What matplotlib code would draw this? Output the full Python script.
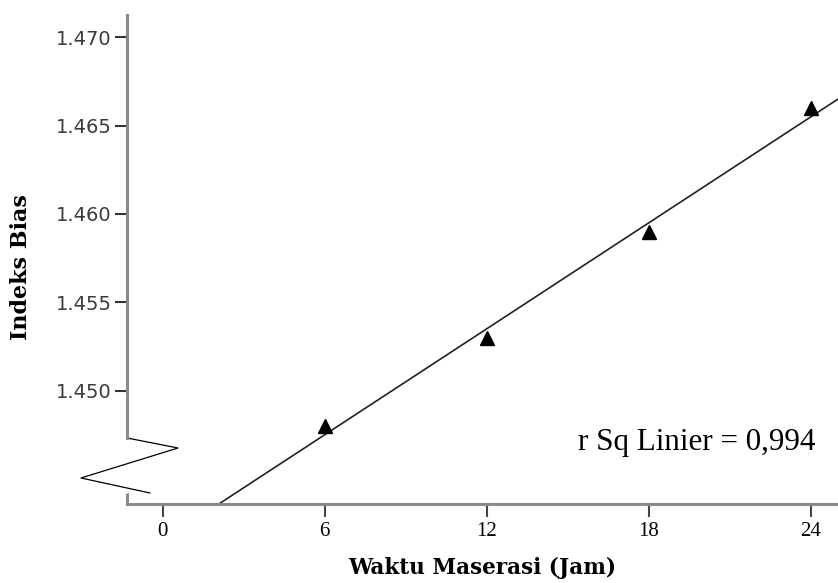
import matplotlib
matplotlib.use("Agg")
import matplotlib.pyplot as plt
import numpy as np

# data
waktu = [6, 12, 18, 24]
indeks = [1.448, 1.453, 1.459, 1.466]
xticks = [0, 6, 12, 18, 24]
yticks = [1.450, 1.455, 1.460, 1.465, 1.470]

slope, icpt = np.polyfit(waktu, indeks, 1)
r2 = np.corrcoef(waktu, indeks)[0, 1] ** 2

fig = plt.figure(figsize=(8.38, 5.83), dpi=100)
ax = fig.add_axes([127/838, 79/583, 711/838, 489/583])

ax.set_xlim(-1.32, 25.0)
ax.set_ylim(1.44358, 1.47126)

xx = np.array([-2, 26])
ax.plot(xx, icpt + slope*xx, color='#222222', lw=1.2)
ax.plot(waktu, indeks, linestyle='none', marker='^', ms=9.5, color='black')

for s in ['top', 'right']:
    ax.spines[s].set_visible(False)
spcol = '#8a8a8a'
ax.spines['bottom'].set_color(spcol)
ax.spines['bottom'].set_linewidth(2.2)
ax.spines['left'].set_color(spcol)
ax.spines['left'].set_linewidth(2.2)
ylo, yhi = ax.get_ylim()
ax.spines['left'].set_bounds(ylo + 0.135*(yhi - ylo), yhi)

# axis break
tr = ax.transAxes
ax.plot([0, 0], [0, 0.0225], color=spcol, lw=2.2, transform=tr, clip_on=False,
        solid_capstyle='butt')
ax.plot([0, 0.0717, -0.0647, 0.0323], [0.135, 0.1145, 0.0532, 0.0225],
        color='black', lw=0.9, transform=tr, clip_on=False)

ax.set_xticks(xticks)
ax.set_xticklabels([str(v) for v in xticks], fontfamily='Liberation Serif', fontsize=15)
ax.set_yticks(yticks)
ax.set_yticklabels(['%.3f' % v for v in yticks], fontfamily='DejaVu Sans', fontsize=14,
                   color='#3a3a3a')
ax.tick_params(axis='y', direction='out', length=9, width=1.5, color='#333333', pad=2)
ax.tick_params(axis='x', direction='out', length=9, width=1.5, color='#444444', pad=4)

ax.set_xlabel('Waktu Maserasi (Jam)', fontfamily='DejaVu Serif', fontweight='bold',
              fontsize=15.5)
ax.xaxis.set_label_coords(0.5, -0.108)
ax.set_ylabel('Indeks Bias', fontfamily='DejaVu Serif', fontweight='bold', fontsize=16)
ax.yaxis.set_label_coords(-0.1336, 0.4847)

ax.text(0.9677, 0.1104, 'r Sq Linier = ' + ('%.3f' % r2).replace('.', ','),
        transform=tr, ha='right', va='baseline', fontfamily='Liberation Serif',
        fontsize=22.4)

fig.savefig('out.png', dpi=100)
